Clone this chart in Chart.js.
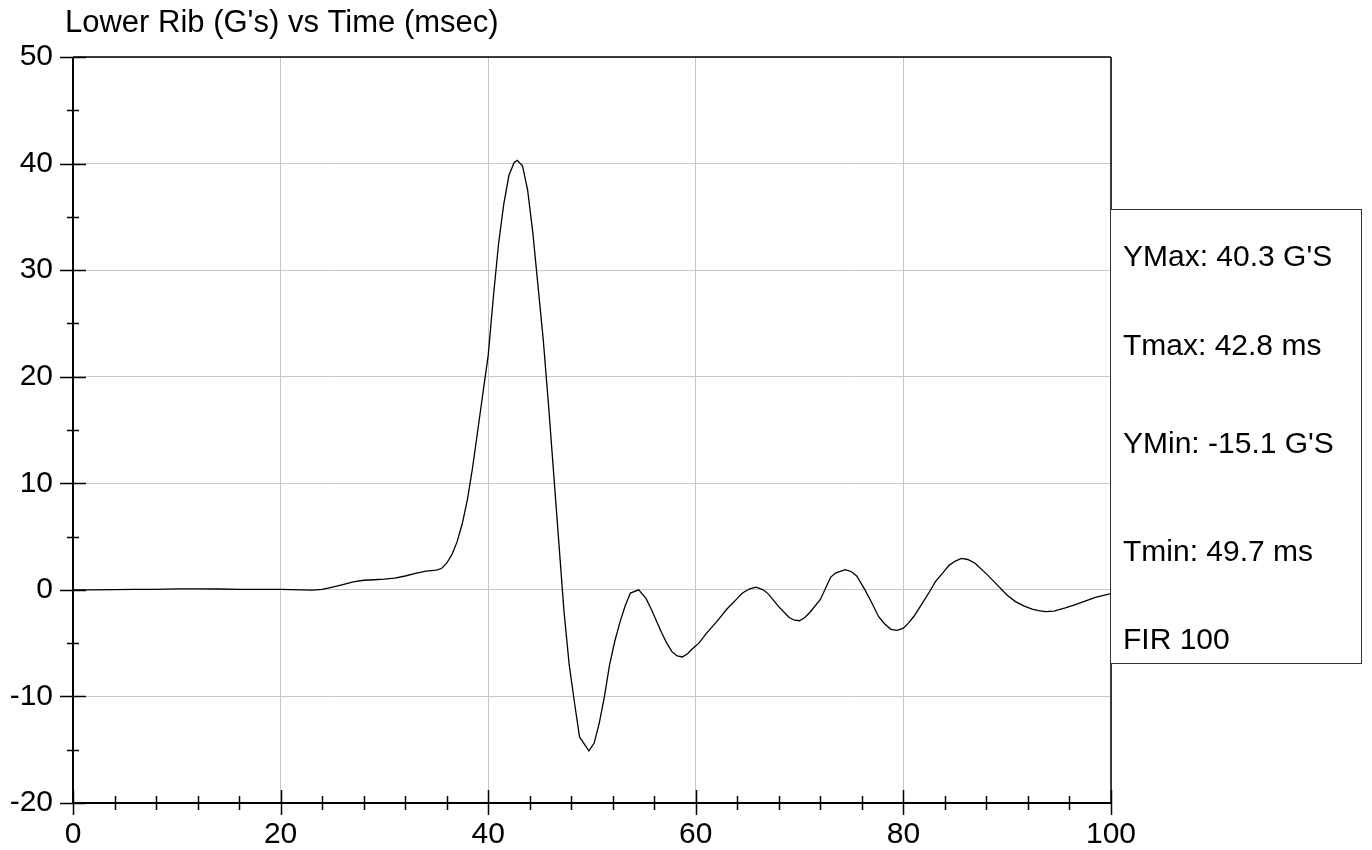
<!DOCTYPE html>
<html>
<head>
<meta charset="utf-8">
<script src="https://cdn.jsdelivr.net/npm/chart.js@4.4.1/dist/chart.umd.min.js"></script>
<style>
  html, body { margin: 0; padding: 0; background: #fff; }
  canvas { display: block; }
</style>
</head>
<body>
<canvas id="ribChart" width="1372" height="850"></canvas>
<script>
// time (msec) and lower rib acceleration (G's)
const times = [
  0, 2, 4, 6, 8, 10, 12, 14, 16, 18, 20, 22, 23, 24, 25, 26, 27, 28, 29, 30,
  31, 32, 33, 34, 35, 35.5, 36, 36.5, 37, 37.5, 38, 38.5, 39, 39.5, 40, 40.5,
  41, 41.5, 42, 42.5, 42.8, 43.3, 43.8, 44.3, 44.8, 45.3, 45.8, 46.3, 46.8,
  47.3, 47.8, 48.3, 48.8, 49.7, 50.2, 50.7, 51.2, 51.7, 52.2, 52.7, 53.2, 53.7,
  54.5, 55.2, 55.7, 56.2, 56.7, 57.2, 57.7, 58.2, 58.7, 59.2, 59.7, 60.3, 61,
  62, 63, 64, 64.5, 65.2, 65.8, 66.5, 67, 68, 69, 69.5, 70, 70.5, 71, 72, 73,
  73.5, 74.4, 75, 75.5, 76.3, 77, 77.6, 78.2, 78.8, 79.4, 80, 80.5, 81, 81.8,
  82.5, 83.1, 83.8, 84.4, 85, 85.6, 86.2, 86.9, 88, 89.2, 90, 90.8, 91.6, 92.4,
  93, 93.7, 94.5, 95.6, 96.5, 97.5, 98.5, 100
];
const accel = [
  0, 0, 0.02, 0.05, 0.05, 0.1, 0.1, 0.08, 0.05, 0.05, 0.05, 0, -0.02, 0.05,
  0.25, 0.5, 0.75, 0.9, 0.95, 1.0, 1.1, 1.3, 1.55, 1.75, 1.85, 2.0, 2.5, 3.3,
  4.5, 6.2, 8.5, 11.5, 15.0, 18.5, 22.0, 27.5, 32.5, 36.2, 38.9, 40.1, 40.3,
  39.8, 37.5, 33.5, 28.5, 23.5, 17.5, 11.0, 4.5, -2.0, -7.0, -10.5, -13.8,
  -15.1, -14.4, -12.5, -10.0, -7.0, -4.8, -3.0, -1.5, -0.3, 0, -0.8, -1.8,
  -2.9, -4.0, -5.0, -5.8, -6.2, -6.3, -6.0, -5.5, -5.0, -4.1, -3.0, -1.8,
  -0.8, -0.3, 0.1, 0.25, 0, -0.4, -1.6, -2.6, -2.85, -2.9, -2.6, -2.1, -0.9,
  1.2, 1.6, 1.9, 1.7, 1.3, 0, -1.3, -2.5, -3.2, -3.7, -3.8, -3.6, -3.1, -2.5,
  -1.3, -0.2, 0.8, 1.6, 2.3, 2.7, 2.95, 2.85, 2.5, 1.5, 0.3, -0.5, -1.1, -1.5,
  -1.8, -1.95, -2.05, -2.0, -1.7, -1.4, -1.05, -0.7, -0.35
];

const xMajorTicks = [0, 20, 40, 60, 80, 100];
const xMinorTicks = [4, 8, 12, 16, 24, 28, 32, 36, 44, 48, 52, 56, 64, 68, 72, 76, 84, 88, 92, 96];
const yMajorTicks = [-20, -10, 0, 10, 20, 30, 40, 50];
const yMinorTicks = [-15, -5, 5, 15, 25, 35, 45];

const chartTitle = "Lower Rib (G's) vs Time (msec)";
const statLines = ["YMax: 40.3 G'S", "Tmax: 42.8 ms", "YMin: -15.1 G'S", "Tmin: 49.7 ms", "FIR 100"];

const FONT = "'Liberation Sans', Arial, sans-serif";

// frame, crossing tick marks, title and the stats box
const decorations = {
  id: "decorations",
  afterDatasetsDraw(chart) {
    const { ctx, chartArea: a, scales: { x, y } } = chart;
    ctx.save();
    ctx.strokeStyle = "#000";
    ctx.lineWidth = 1.5;
    ctx.beginPath();
    ctx.moveTo(a.left, a.top);
    ctx.lineTo(a.right, a.top);
    ctx.moveTo(a.right, a.top);
    ctx.lineTo(a.right, a.bottom);
    ctx.stroke();

    ctx.lineWidth = 2;
    ctx.beginPath();
    ctx.moveTo(a.left, a.top);
    ctx.lineTo(a.left, a.bottom);
    ctx.lineTo(a.right, a.bottom);
    ctx.stroke();

    ctx.lineWidth = 1.5;
    ctx.beginPath();
    yMajorTicks.forEach((v) => {
      const py = Math.round(y.getPixelForValue(v)) + 0.5;
      ctx.moveTo(a.left - 13, py);
      ctx.lineTo(a.left + 13, py);
    });
    yMinorTicks.forEach((v) => {
      const py = Math.round(y.getPixelForValue(v)) + 0.5;
      ctx.moveTo(a.left - 6, py);
      ctx.lineTo(a.left + 6, py);
    });
    xMajorTicks.forEach((v) => {
      const px = Math.round(x.getPixelForValue(v)) + 0.5;
      ctx.moveTo(px, a.bottom - 13);
      ctx.lineTo(px, a.bottom + 12);
    });
    xMinorTicks.forEach((v) => {
      const px = Math.round(x.getPixelForValue(v)) + 0.5;
      ctx.moveTo(px, a.bottom - 7);
      ctx.lineTo(px, a.bottom + 7);
    });
    ctx.stroke();

    ctx.fillStyle = "#000";
    ctx.font = "31px " + FONT;
    ctx.textAlign = "left";
    ctx.textBaseline = "middle";
    ctx.fillText(chartTitle, 65, 23);
    ctx.restore();
  },
  afterDraw(chart) {
    const { ctx } = chart;
    ctx.save();
    ctx.fillStyle = "#fff";
    ctx.fillRect(1110, 209, 251, 454);
    ctx.strokeStyle = "#333";
    ctx.lineWidth = 1;
    ctx.strokeRect(1110.5, 209.5, 251, 454);
    ctx.fillStyle = "#000";
    ctx.font = "30px " + FONT;
    ctx.textAlign = "left";
    ctx.textBaseline = "middle";
    const rows = [258, 347, 445, 553, 641];
    statLines.forEach((s, i) => ctx.fillText(s, 1123, rows[i]));
    ctx.restore();
  },
};

new Chart(document.getElementById("ribChart"), {
  type: "line",
  data: {
    datasets: [
      {
        data: times.map((t, i) => ({ x: t, y: accel[i] })),
        borderColor: "#000",
        borderWidth: 1.3,
        pointRadius: 0,
        tension: 0,
        fill: false,
      },
    ],
  },
  options: {
    responsive: false,
    devicePixelRatio: 1,
    animation: false,
    layout: { padding: { left: 0, top: 57, right: 261, bottom: 0 } },
    plugins: { legend: { display: false }, tooltip: { enabled: false } },
    scales: {
      x: {
        type: "linear",
        min: 0,
        max: 100,
        afterFit: (s) => { s.height = 47; },
        grid: { color: "#c8c8c8", lineWidth: 1, drawTicks: false },
        border: { display: false },
        ticks: {
          stepSize: 20,
          padding: 14,
          color: "#000",
          font: { size: 30, family: FONT },
          maxRotation: 0,
        },
      },
      y: {
        min: -20,
        max: 50,
        afterFit: (s) => { s.width = 73; },
        grid: { color: "#c8c8c8", lineWidth: 1, drawTicks: false },
        border: { display: false },
        ticks: {
          stepSize: 10,
          padding: 20,
          color: "#000",
          font: { size: 30, family: FONT },
        },
      },
    },
  },
  plugins: [decorations],
});
</script>
</body>
</html>
